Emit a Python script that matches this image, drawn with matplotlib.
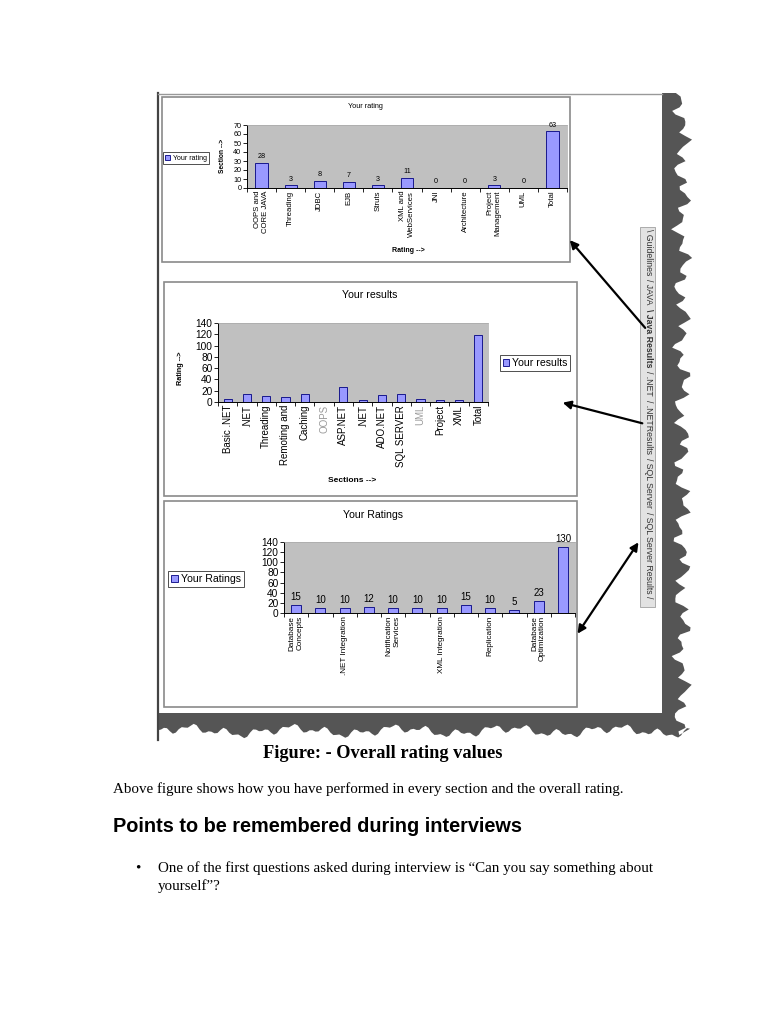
import numpy as np
import matplotlib
matplotlib.use("Agg")
import matplotlib.pyplot as plt
from matplotlib.patches import Rectangle, Polygon

# ---- data ----
java_sections = ["OOPS and\nCORE JAVA", "Threading", "JDBC", "EJB", "Struts",
                 "XML and\nWebServices", "JNI", "Architecture",
                 "Project\nManagement", "UML", "Total"]
java_rating = [28, 3, 8, 7, 3, 11, 0, 0, 3, 0, 63]

net_sections = ["Basic .NET", ".NET", "Threading", "Remoting and", "Caching",
                "OOPS", "ASP.NET", ".NET", "ADO.NET", "SQL SERVER", "UML",
                "Project", "XML", "Total"]
net_results = [5, 14, 11, 8, 14, 0, 27, 3, 12, 14, 6, 3, 3, 118]
net_grey = ["OOPS", "UML"]

sql_sections = ["Database\nConcepts", "", ".NET Integration", "",
                "Notification\nServices", "", "XML Integration", "",
                "Replication", "", "Database\nOptimization", ""]
sql_ratings = [15, 10, 10, 12, 10, 10, 10, 15, 10, 5, 23, 130]

tabs = ["\\ Guidelines", "/ JAVA", "\\ Java Results", "/ .NET",
        "/ .NETResults", "/ SQL Server", "/ SQL Server Results /"]

W, H = 768, 1024
BAR = "#9999ff"
EDGE = "#000080"
PLOT_BG = "#c0c0c0"

plt.rcParams['font.family'] = ['Liberation Sans', 'DejaVu Sans']

fig = plt.figure(figsize=(7.68, 10.24), dpi=100)

# page background axes in pixel coordinates
bg = fig.add_axes([0, 0, 1, 1])
bg.set_xlim(0, W)
bg.set_ylim(H, 0)
bg.axis("off")


def place(x0, y0, x1, y1):
    return fig.add_axes([x0 / W, 1 - y1 / H, (x1 - x0) / W, (y1 - y0) / H])


# torn grey frame (right + bottom)
ys = np.linspace(93, 735, 180)
xr = 682 + 5 * np.sin(ys / 3.1) + 4 * np.sin(ys / 9.7) + 2 * np.cos(ys / 1.7)
xs = np.linspace(690, 158, 180)
yb = 731 + 3 * np.sin(xs / 5.3) + 3 * np.sin(xs / 17.0) + 2 * np.cos(xs / 2.3)
pts = [(662, 93)] + list(zip(xr, ys)) + list(zip(xs, yb)) + [(158, 713), (662, 713)]
bg.add_patch(Polygon(pts, closed=True, facecolor="#555555", edgecolor="none"))
bg.plot([158, 158], [93, 740], color="#444444", lw=1.6)
bg.plot([158, 662], [93.5, 93.5], color="#999999", lw=1)

# chart boxes
for (x0, y0, x1, y1) in [(162, 97, 570, 262), (164, 282, 577, 496), (164, 501, 577, 707)]:
    bg.add_patch(Rectangle((x0, y0), x1 - x0, y1 - y0, fill=False,
                           edgecolor="#8a8a8a", lw=1.2))

# sheet tabs, laid end to end
bg.add_patch(Rectangle((640, 227), 15, 380, facecolor="#e2e2e2", edgecolor="#a0a0a0", lw=0.6))
renderer = fig.canvas.get_renderer()
inv = bg.transData.inverted()
ty = 229
for t in tabs:
    bold = "Java Results" in t
    txt = bg.text(648, ty, t, rotation=270, ha="center", va="top", fontsize=6.3,
                  fontweight="bold" if bold else "normal", color="#333333")
    ext = txt.get_window_extent(renderer)
    ty = inv.transform((0, ext.y0))[1] + 4

# arrows
aprops = dict(arrowstyle="-|>", color="black", lw=1.6, mutation_scale=12)
bg.annotate("", xy=(568, 238), xytext=(647, 330), arrowprops=aprops)
bg.annotate("", xy=(560, 402), xytext=(645, 424), arrowprops=aprops)
bg.annotate("", xy=(576, 636), xytext=(640, 540),
            arrowprops=dict(arrowstyle="<|-|>", color="black", lw=1.6, mutation_scale=12))


def style(ax, n, ymax, step, fs):
    ax.set_facecolor(PLOT_BG)
    ax.set_xlim(-0.5, n - 0.5)
    ax.set_ylim(0, ymax)
    ax.set_yticks(np.arange(0, ymax + 1, step))
    ax.set_xticks(np.arange(-0.5, n), minor=True)
    ax.tick_params(axis="x", which="major", length=0, pad=2)
    ax.tick_params(axis="x", which="minor", length=3, width=0.6)
    ax.tick_params(axis="y", length=3, width=0.6, labelsize=fs, pad=1)
    for s in ["left", "bottom"]:
        ax.spines[s].set_linewidth(0.7)
    for s in ["top", "right"]:
        ax.spines[s].set_color("#a8a8a8")
        ax.spines[s].set_linewidth(0.5)


# ---- chart 1: Java ----
ax1 = place(247, 125, 567, 188)
x = np.arange(len(java_rating))
ax1.bar(x, java_rating, width=0.42, color=BAR, edgecolor=EDGE, lw=0.6, label="Your rating")
style(ax1, len(java_rating), 70, 10, 5.2)
ax1.set_xticks(x)
ax1.set_xticklabels(java_sections, rotation=90, fontsize=5.6, multialignment="right")
for i, v in zip(x, java_rating):
    ax1.text(i, v + 3, str(v), ha="center", va="bottom", fontsize=5.2, clip_on=False)
bg.text(365, 106, "Your rating", ha="center", va="center", fontsize=5.2)
bg.text(223, 156, "Section -->", rotation=90, ha="center", va="center", fontsize=4.8, fontweight="bold")
bg.text(408, 250, "Rating -->", ha="center", va="center", fontsize=5, fontweight="bold")
ax1.legend(loc="center", bbox_to_anchor=(186 / W, 1 - 158 / H), bbox_transform=fig.transFigure,
           fontsize=5, frameon=True, fancybox=False, edgecolor="black", handlelength=0.7,
           handleheight=0.7, handletextpad=0.4, borderpad=0.3, borderaxespad=0).get_frame().set_linewidth(0.6)

# ---- chart 2: .NET ----
ax2 = place(218, 323, 488, 402)
x = np.arange(len(net_results))
ax2.bar(x, net_results, width=0.42, color=BAR, edgecolor=EDGE, lw=0.6, label="Your results")
style(ax2, len(net_results), 140, 20, 7.3)
ax2.set_xticks(x)
ax2.set_xticklabels(net_sections, rotation=90, fontsize=7)
for lab in ax2.get_xticklabels():
    if lab.get_text() in net_grey:
        lab.set_color("#9a9a9a")
bg.text(370, 295, "Your results", ha="center", va="center", fontsize=7.6)
bg.text(181, 368, "Rating -->", rotation=90, ha="center", va="center", fontsize=5.2, fontweight="bold")
bg.text(352, 480, "Sections -->", ha="center", va="center", fontsize=6, fontweight="bold")
ax2.legend(loc="center", bbox_to_anchor=(535 / W, 1 - 363 / H), bbox_transform=fig.transFigure,
           fontsize=7.6, frameon=True, fancybox=False, edgecolor="black", handlelength=0.6,
           handleheight=0.6, handletextpad=0.3, borderpad=0.25, borderaxespad=0).get_frame().set_linewidth(0.6)

# ---- chart 3: SQL Server ----
ax3 = place(284, 542, 575, 613)
x = np.arange(len(sql_ratings))
ax3.bar(x, sql_ratings, width=0.42, color=BAR, edgecolor=EDGE, lw=0.6, label="Your Ratings")
style(ax3, len(sql_ratings), 140, 20, 7.3)
ax3.set_xticks(x)
ax3.set_xticklabels(sql_sections, rotation=90, fontsize=5.9, multialignment="right")
for i, v in zip(x, sql_ratings):
    ax3.text(i, v + 6, str(v), ha="center", va="bottom", fontsize=7, clip_on=False)
bg.text(373, 515, "Your Ratings", ha="center", va="center", fontsize=7.6)
ax3.legend(loc="center", bbox_to_anchor=(206 / W, 1 - 579 / H), bbox_transform=fig.transFigure,
           fontsize=7.6, frameon=True, fancybox=False, edgecolor="black", handlelength=0.6,
           handleheight=0.6, handletextpad=0.3, borderpad=0.3, borderaxespad=0).get_frame().set_linewidth(0.6)

# ---- document text ----
bg.text(383, 753, "Figure: - Overall rating values", ha="center", va="center",
        fontsize=13.2, fontweight="bold", family="Liberation Serif")
bg.text(113, 789, "Above figure shows how you have performed in every section and the overall rating.",
        ha="left", va="center", fontsize=10.8, family="Liberation Serif")
bg.text(113, 826, "Points to be remembered during interviews", ha="left", va="center",
        fontsize=14.3, fontweight="bold", family="Liberation Sans")
bg.text(135, 868, "\u2022", ha="left", va="center", fontsize=11, family="Liberation Serif")
bg.text(158, 868, "One of the first questions asked during interview is \u201cCan you say something about",
        ha="left", va="center", fontsize=10.8, family="Liberation Serif")
bg.text(158, 886, "yourself\u201d?", ha="left", va="center", fontsize=10.8, family="Liberation Serif")

fig.savefig("out.png", dpi=100)
